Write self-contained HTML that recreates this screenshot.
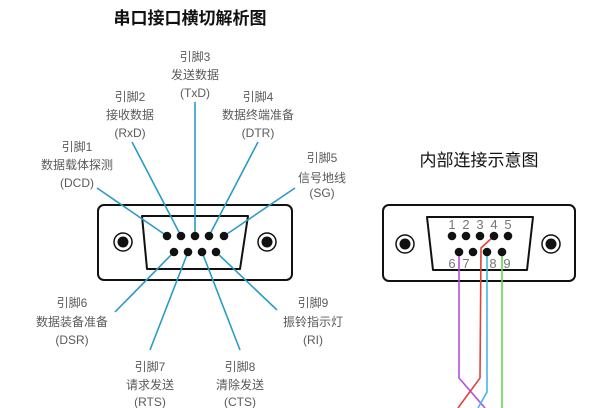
<!DOCTYPE html>
<html><head><meta charset="utf-8"><style>
html,body{margin:0;padding:0;background:#fff;}
svg{display:block;}
.t{font-family:"Liberation Sans","Noto Sans CJK SC",sans-serif;fill:#5a5a5a;font-size:12px;text-anchor:middle;}
.h{font-family:"Liberation Sans","Noto Sans CJK SC",sans-serif;fill:#111;font-size:17px;font-weight:bold;text-anchor:middle;}
.n{font-family:"Liberation Sans","Noto Sans CJK SC",sans-serif;fill:#777;font-size:13px;text-anchor:middle;}
</style></head><body>
<svg width="600" height="408" viewBox="0 0 600 408" xmlns="http://www.w3.org/2000/svg">
<text class="h" x="190" y="24">串口接口横切解析图</text>
<text class="h" x="479" y="166" style="font-weight:normal">内部连接示意图</text>

<g class="t">
<text x="195" y="61">引脚3</text><text x="195" y="79">发送数据</text><text x="195" y="97">(TxD)</text>
<text x="130" y="101">引脚2</text><text x="130" y="119">接收数据</text><text x="130" y="137">(RxD)</text>
<text x="258" y="101">引脚4</text><text x="258" y="119">数据终端准备</text><text x="258" y="137">(DTR)</text>
<text x="77" y="151">引脚1</text><text x="77" y="169">数据载体探测</text><text x="77" y="187">(DCD)</text>
<text x="322" y="162">引脚5</text><text x="322" y="182">信号地线</text><text x="322" y="197">(SG)</text>
<text x="72" y="307">引脚6</text><text x="72" y="326">数据装备准备</text><text x="72" y="344">(DSR)</text>
<text x="313" y="307">引脚9</text><text x="313" y="326">振铃指示灯</text><text x="313" y="344">(RI)</text>
<text x="150" y="371">引脚7</text><text x="150" y="389">请求发送</text><text x="150" y="406">(RTS)</text>
<text x="240" y="371">引脚8</text><text x="240" y="389">清除发送</text><text x="240" y="406">(CTS)</text>
</g>

<rect x="98" y="205" width="194" height="75" rx="6" fill="#fff" stroke="#111" stroke-width="2"/>
<path d="M142 216 L248 216 L240 269 L147 269 Z" fill="#fff" stroke="#111" stroke-width="2" stroke-linejoin="round"/>
<circle cx="123" cy="242" r="9" fill="#fff" stroke="#111" stroke-width="1.5"/><circle cx="123" cy="242" r="5.5" fill="#111"/>
<circle cx="267" cy="242" r="9" fill="#fff" stroke="#111" stroke-width="1.5"/><circle cx="267" cy="242" r="5.5" fill="#111"/>
<g stroke="#2a9bc4" stroke-width="1.6">
<line x1="195" y1="102" x2="195" y2="236"/>
<line x1="132" y1="142" x2="181" y2="236"/>
<line x1="258" y1="142" x2="209" y2="236"/>
<line x1="97" y1="188" x2="167" y2="236"/>
<line x1="295" y1="188" x2="224" y2="236"/>
<line x1="115" y1="312" x2="174" y2="252"/>
<line x1="150" y1="350" x2="188" y2="252"/>
<line x1="240" y1="350" x2="202" y2="252"/>
<line x1="277" y1="310" x2="216" y2="252"/>
</g>
<g fill="#111">
<circle cx="167" cy="236" r="4.3"/><circle cx="181" cy="236" r="4.3"/><circle cx="195" cy="236" r="4.3"/><circle cx="209" cy="236" r="4.3"/><circle cx="224" cy="236" r="4.3"/>
<circle cx="174" cy="252" r="4.3"/><circle cx="188" cy="252" r="4.3"/><circle cx="202" cy="252" r="4.3"/><circle cx="216" cy="252" r="4.3"/>
</g>

<rect x="383" y="205" width="192" height="76" rx="6" fill="#fff" stroke="#111" stroke-width="2"/>
<path d="M427 217 L533 217 L527 270 L433 270 Z" fill="#fff" stroke="#111" stroke-width="2" stroke-linejoin="round"/>
<circle cx="405" cy="244" r="9" fill="#fff" stroke="#111" stroke-width="1.5"/><circle cx="405" cy="244" r="5.5" fill="#111"/>
<circle cx="551" cy="244" r="9" fill="#fff" stroke="#111" stroke-width="1.5"/><circle cx="551" cy="244" r="5.5" fill="#111"/>
<g class="n">
<text x="452" y="229">1</text><text x="466" y="229">2</text><text x="480" y="229">3</text><text x="494" y="229">4</text><text x="508" y="229">5</text>
<text x="452" y="268">6</text><text x="466" y="268">7</text><text x="493" y="268">8</text><text x="507" y="268">9</text>
</g>
<g fill="none" stroke-width="1.6">
<path d="M459 252 L459 378 L485 408" stroke="#b44fe0"/>
<path d="M494 236 L481 248 L480 378 L458 408" stroke="#e0433a"/>
<path d="M487 252 L487 392 L478 408" stroke="#4ab4e6"/>
<path d="M502 252 L502 408" stroke="#66d84a"/>
</g>
<g fill="#111">
<circle cx="452" cy="236" r="4.3"/><circle cx="466" cy="236" r="4.3"/><circle cx="480" cy="236" r="4.3"/><circle cx="494" cy="236" r="4.3"/><circle cx="508" cy="236" r="4.3"/>
<circle cx="459" cy="252" r="4.3"/><circle cx="473" cy="252" r="4.3"/><circle cx="487" cy="252" r="4.3"/><circle cx="502" cy="252" r="4.3"/>
</g>
</svg>
</body></html>
